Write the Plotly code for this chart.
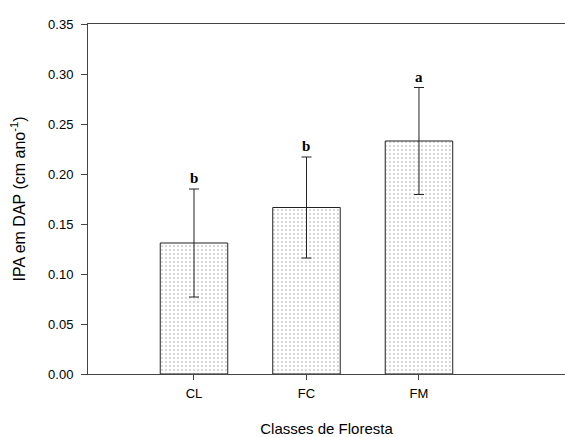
import plotly.graph_objects as go

categories = ["CL", "FC", "FM"]
means = [0.131, 0.1665, 0.233]
errors = [0.054, 0.0505, 0.0535]
letters = ["b", "b", "a"]
positions = [1, 2, 3]

fig = go.Figure()
fig.add_trace(go.Bar(
    x=positions, y=means, width=0.6,
    marker=dict(
        color="white",
        line=dict(color="#222222", width=1),
        pattern=dict(shape=".", size=4, solidity=0.12, fgcolor="#444444", bgcolor="white"),
    ),
    error_y=dict(type="data", array=errors, visible=True, color="#222222", thickness=1, width=5),
    showlegend=False,
))

for xp, m, e, l in zip(positions, means, errors, letters):
    fig.add_annotation(x=xp, y=m + e, text=f"<b>{l}</b>", showarrow=False,
                       yanchor="bottom", yshift=1,
                       font=dict(family="Liberation Serif", size=15, color="black"))

fig.update_layout(
    width=565, height=437,
    margin=dict(l=88, r=0, t=24, b=63),
    plot_bgcolor="white", paper_bgcolor="white",
    font=dict(family="Liberation Sans", size=13, color="black"),
    xaxis=dict(
        range=[0.0578, 4.298], tickvals=positions, ticktext=categories,
        showline=True, linecolor="#444444", linewidth=1, mirror=True,
        ticks="outside", ticklen=5, tickcolor="#444444", showgrid=False, zeroline=False,
        ticklabelstandoff=2, automargin=False,
        title=dict(text="Classes de Floresta", font=dict(size=15), standoff=27),
    ),
    yaxis=dict(
        range=[0, 0.35], tickvals=[0, 0.05, 0.1, 0.15, 0.2, 0.25, 0.3, 0.35],
        tickformat=".2f",
        showline=True, linecolor="#444444", linewidth=1,
        ticks="outside", ticklen=6, tickcolor="#444444", showgrid=False, zeroline=False,
        ticklabelstandoff=5, automargin=False,
        title=dict(text="IPA em DAP (cm ano<sup>-1</sup>)", font=dict(size=16), standoff=18),
    ),
)

fig.write_html("out.html")
